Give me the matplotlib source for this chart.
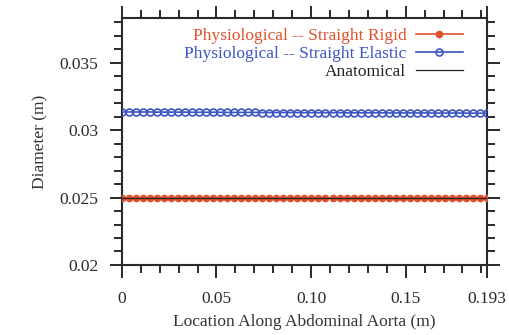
import matplotlib
matplotlib.use('Agg')
import matplotlib.pyplot as plt
from matplotlib.ticker import MultipleLocator

plt.rcParams['font.family'] = ['Liberation Serif', 'DejaVu Serif']

# sample locations along the aorta (m)
x = [0.0000, 0.0037, 0.0074, 0.0111, 0.0148, 0.0186, 0.0223, 0.0260, 0.0297,
     0.0334, 0.0371, 0.0408, 0.0445, 0.0483, 0.0520, 0.0557, 0.0594, 0.0631,
     0.0668, 0.0705, 0.0742, 0.0780, 0.0817, 0.0854, 0.0891, 0.0928, 0.0965,
     0.1002, 0.1039, 0.1076, 0.1114, 0.1151, 0.1188, 0.1225, 0.1262, 0.1299,
     0.1336, 0.1373, 0.1411, 0.1448, 0.1485, 0.1522, 0.1559, 0.1596, 0.1633,
     0.1670, 0.1708, 0.1745, 0.1782, 0.1819, 0.1856, 0.1893, 0.1930]

d_rigid = [0.0250] * 53

d_elastic = [0.03134, 0.03134, 0.03134, 0.03134, 0.03134, 0.03133, 0.03133,
             0.03133, 0.03133, 0.03133, 0.03132, 0.03132, 0.03132, 0.03132,
             0.03132, 0.03131, 0.03131, 0.03131, 0.03131, 0.03131, 0.03130,
             0.03130, 0.03130, 0.03130, 0.03130, 0.03130, 0.03129, 0.03129,
             0.03129, 0.03129, 0.03129, 0.03129, 0.03128, 0.03128, 0.03128,
             0.03128, 0.03128, 0.03128, 0.03127, 0.03127, 0.03127, 0.03127,
             0.03127, 0.03127, 0.03126, 0.03126, 0.03126, 0.03126, 0.03126,
             0.03126, 0.03125, 0.03125, 0.03125]

x_anat = [0.0, 0.193]
d_anat = [0.025, 0.025]

xticks = [0, 0.05, 0.10, 0.15, 0.193]
xticklabels = ['0', '0.05', '0.10', '0.15', '0.193']
yticks = [0.02, 0.025, 0.03, 0.035]
yticklabels = ['0.02', '0.025', '0.03', '0.035']

red = '#e0502c'
blue = '#3b55c2'

fig = plt.figure(figsize=(5.1, 3.35), dpi=100)
ax = fig.add_axes([0.239, 0.209, 0.716, 0.737])

ax.plot(x, d_rigid, color=red, lw=1.2, marker='o', ms=4.5, mfc=red, mec=red,
        label='Physiological -- Straight Rigid', zorder=3)
ax.plot(x_anat, d_anat, color='#222222', lw=0.9, label='Anatomical', zorder=4)
ax.plot(x, d_elastic, color=blue, lw=1.2, marker='o', ms=5, mfc='none',
        mec=blue, mew=1.2, label='Physiological -- Straight Elastic', zorder=3)

ax.set_xlim(0, 0.193)
ax.set_ylim(0.02, 0.0383)
ax.set_xticks(xticks)
ax.set_xticklabels(xticklabels)
ax.set_yticks(yticks)
ax.set_yticklabels(yticklabels)
ax.xaxis.set_minor_locator(MultipleLocator(0.01))
ax.yaxis.set_minor_locator(MultipleLocator(0.001))

ax.tick_params(which='both', direction='out', top=True, right=True,
               width=1.4, labelsize=12.5, colors='#2a2a2a')
ax.tick_params(which='major', length=9)
ax.tick_params(which='minor', length=5.5)
ax.tick_params(axis='x', pad=10)
ax.tick_params(axis='y', pad=8)
for s in ax.spines.values():
    s.set_linewidth(1.5)
    s.set_color('#2a2a2a')

ax.set_xlabel('Location Along Abdominal Aorta (m)', fontsize=12.5, color='#333333',
              labelpad=5)
ax.set_ylabel('Diameter (m)', fontsize=12.5, color='#333333', labelpad=8)

h, l = ax.get_legend_handles_labels()
order = [0, 2, 1]
leg = ax.legend([h[i] for i in order], [l[i] for i in order], loc='upper right',
                bbox_to_anchor=(0.967, 1.01), frameon=False, markerfirst=False,
                fontsize=12.5, handlelength=2.7, handletextpad=0.55,
                labelspacing=0.1, borderaxespad=0.3)
for t, c in zip(leg.get_texts(), [red, blue, '#222222']):
    t.set_color(c)
    t.set_ha('right')

fig.savefig('out.png', dpi=100)
